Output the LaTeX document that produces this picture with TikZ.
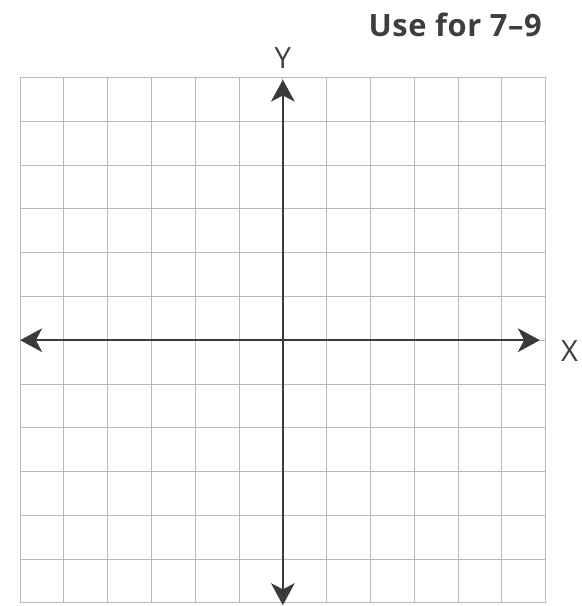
\documentclass[tikz,border=0pt]{standalone}
\usepackage{fontspec}
\setmainfont{Open Sans}
\usepackage{tikz}
\usetikzlibrary{arrows.meta,positioning,calc}
\definecolor{gridgray}{RGB}{185, 185, 185}
\definecolor{axisdark}{RGB}{58, 58, 58}
\definecolor{labelgray}{RGB}{62, 62, 62}

\begin{document}
\begin{tikzpicture}[
    axisline/.style={line width=1.5pt,axisdark,{Stealth[length=5mm,width=5.4mm,inset=1.4mm]}-{Stealth[length=5mm,width=5.4mm,inset=1.4mm]}},
    axislabel/.style={labelgray,font=\fontsize{19}{21}\selectfont,inner sep=0pt}
]
    \useasboundingbox (-0.46,-0.07) rectangle (12.83,13.77);
    \draw[gridgray,line width=0.6pt] (0,0) grid (12,12);
    \coordinate (xleft) at (0,6);
    \coordinate (xright) at (11.87,6);
    \coordinate (ybottom) at (6,-0.05);
    \coordinate (ytop) at (6,11.95);
    \draw[axisline] (xleft) -- (xright);
    \draw[axisline] (ybottom) -- (ytop);
    \node[axislabel,anchor=base] (ylabel) at (6,12.2) {Y};
    \node[axislabel,anchor=base west] (xlabel) at (12.35,5.52) {X};
    \node[labelgray,font=\fontsize{20}{24}\selectfont\bfseries\addfontfeatures{LetterSpace=2},anchor=base east,inner sep=0pt] (title) at (11.92,12.93) {Use for 7\textendash 9};
\end{tikzpicture}
\end{document}
